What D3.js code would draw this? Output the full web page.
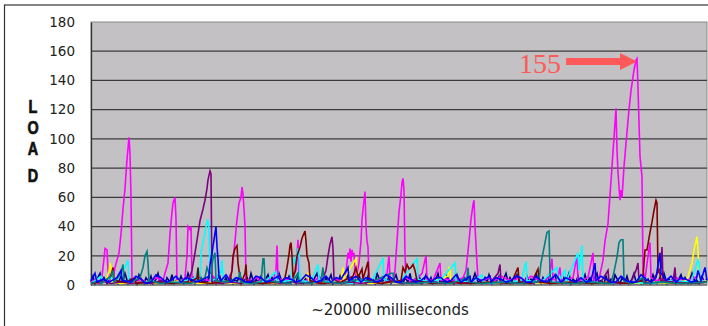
<!DOCTYPE html>
<html>
<head>
<meta charset="utf-8">
<script src="https://cdn.jsdelivr.net/npm/d3@7"></script>
<style>
  body { margin: 0; background: #fff; }
  svg { display: block; }
</style>
</head>
<body>
<div id="chart"></div>
<script>
// y axis ticks
const yTicks = [0, 20, 40, 60, 80, 100, 120, 140, 160, 180];
const yLetters = ["L", "O", "A", "D"];
const xTitle = "~20000 milliseconds";
const peakLabel = 155;
const peakSample = 546;

// one [sample, load] list per run (~32 ms per sample)
const navyLoad = [[0,2],[2,6],[4,1],[6,4],[9,8],[11,2],[13,5],[16,1],[18,3],[20,7],[23,2],[25,4],[27,1],[30,6],[32,3],[34,8],[37,1],[39,4],[41,2],[44,5],[46,1],[48,7],[51,3],[53,1],[55,5],[58,2],[60,6],[62,1],[65,4],[67,8],[69,2],[72,3],[74,1],[76,5],[79,2],[81,7],[83,1],[86,4],[88,2],[90,6],[93,1],[95,3],[97,8],[100,2],[102,5],[104,1],[107,4],[109,7],[111,2],[114,3],[116,1],[118,6],[121,2],[123,4],[125,1],[128,8],[130,3],[132,1],[135,5],[137,2],[139,6],[142,1],[144,4],[146,2],[149,7],[151,1],[153,3],[156,5],[158,2],[160,8],[163,1],[165,4],[167,2],[170,6],[172,1],[174,3],[177,7],[179,2],[181,5],[184,1],[186,4],[188,8],[191,2],[193,3],[195,1],[198,6],[200,2],[202,4],[205,1],[207,7],[209,3],[212,1],[214,5],[216,2],[219,6],[221,1],[223,4],[226,8],[228,2],[230,3],[233,1],[235,5],[237,2],[240,7],[242,1],[244,4],[247,2],[249,6],[251,1],[254,3],[256,8],[258,2],[261,5],[263,1],[265,4],[268,7],[270,2],[272,3],[275,1],[277,6],[279,2],[282,4],[284,1],[286,8],[289,3],[291,1],[293,5],[296,2],[298,6],[300,1],[303,4],[305,7],[307,2],[310,3],[312,1],[314,5],[317,2],[319,8],[321,1],[324,4],[326,2],[328,6],[331,1],[333,3],[335,7],[338,2],[340,5],[342,1],[345,4],[347,8],[349,2],[352,3],[354,1],[356,6],[359,2],[361,4],[363,1],[366,7],[368,3],[370,1],[373,5],[375,2],[377,6],[380,1],[382,4],[384,8],[387,2],[389,3],[391,1],[394,5],[396,2],[398,7],[401,1],[403,4],[405,2],[408,6],[410,1],[412,3],[415,8],[417,2],[419,5],[422,1],[424,4],[426,7],[429,2],[431,3],[433,1],[436,6],[438,2],[440,4],[443,1],[445,8],[447,3],[450,1],[452,5],[454,2],[457,6],[459,1],[461,4],[464,7],[466,2],[468,3],[471,1],[473,5],[475,2],[478,8],[480,1],[482,4],[485,2],[487,6],[489,1],[492,3],[494,7],[496,2],[499,5],[501,1],[503,4],[506,8],[508,2],[510,3],[513,1],[515,6],[517,2],[520,4],[522,1],[524,7],[527,3],[529,1],[531,5],[534,2],[536,6],[538,1],[541,4],[543,8],[545,2],[548,3],[550,1],[552,6],[555,2],[557,4],[559,1],[562,7],[564,3],[566,1],[569,5],[571,2],[573,8],[576,1],[578,4],[580,2],[583,6],[585,1],[587,3],[590,7],[592,2],[594,5],[597,1],[599,4],[601,8],[604,2],[606,3],[608,1],[611,6],[613,2],[616,4]];

const magentaLoad = [[0,2],[5,4],[8,1],[11,6],[13,18],[14,25],[16,24],[17,10],[19,3],[22,4],[24,12],[26,17],[28,22],[30,35],[32,52],[34,66],[36,86],[38,101],[39,90],[40,60],[41,3],[45,2],[50,4],[55,2],[60,3],[66,5],[72,3],[74,8],[77,15],[79,35],[81,50],[82,56],[84,60],[85,45],[86,3],[90,2],[94,5],[96,20],[97,40],[99,38],[100,40],[101,5],[106,2],[112,4],[118,3],[122,6],[126,3],[132,2],[138,3],[141,10],[144,30],[146,45],[148,56],[150,60],[151,67],[152,62],[153,52],[154,40],[155,4],[160,3],[166,5],[170,2],[176,4],[182,3],[185,10],[186,27],[187,5],[192,3],[198,4],[205,10],[207,31],[208,5],[212,2],[218,4],[224,3],[228,6],[232,3],[238,2],[244,4],[250,3],[254,3],[256,15],[257,22],[258,18],[259,25],[260,16],[261,24],[262,20],[263,22],[264,10],[265,4],[266,8],[268,15],[270,30],[271,45],[273,58],[274,64],[275,40],[276,30],[277,26],[278,5],[282,3],[290,4],[296,8],[298,20],[299,5],[302,3],[304,10],[306,30],[308,50],[310,62],[311,70],[312,73],[313,65],[314,20],[315,5],[320,3],[326,4],[331,8],[335,20],[336,4],[342,3],[349,15],[350,3],[356,4],[362,3],[368,4],[372,5],[375,10],[378,30],[380,45],[382,55],[383,58],[384,40],[386,15],[387,4],[392,3],[398,5],[404,3],[410,6],[416,4],[422,3],[428,5],[434,3],[440,6],[446,4],[452,3],[458,5],[461,18],[462,4],[466,3],[469,12],[470,3],[476,4],[482,5],[486,20],[487,3],[492,4],[497,5],[502,22],[503,3],[508,4],[512,17],[514,30],[517,42],[521,81],[523,101],[525,121],[526,92],[527,77],[529,58],[530,65],[531,60],[533,81],[535,97],[538,120],[540,133],[543,147],[545,154],[546,155],[547,135],[549,88],[551,74],[552,10],[554,4],[557,20],[559,29],[560,5],[565,3],[572,4],[578,2],[585,5],[592,3],[600,4],[607,6],[612,3],[616,2]];

const yellowLoad = [[0,1],[15,3],[18,9],[19,15],[20,12],[21,2],[30,1],[50,2],[70,1],[90,3],[110,1],[130,2],[150,1],[170,2],[190,1],[210,2],[217,8],[218,2],[230,1],[240,3],[250,2],[252,12],[253,4],[264,17],[265,18],[266,3],[280,1],[300,2],[320,1],[340,2],[357,6],[358,12],[359,12],[360,2],[380,1],[400,2],[420,1],[440,2],[460,1],[480,2],[500,1],[520,2],[540,1],[560,2],[580,1],[596,3],[598,8],[601,15],[603,24],[605,30],[606,33],[607,24],[608,5],[610,2],[616,3]];

const cyanLoad = [[0,1],[10,6],[11,2],[20,5],[25,3],[34,12],[37,17],[38,2],[50,1],[60,3],[70,1],[90,2],[105,5],[107,12],[109,5],[110,22],[112,29],[114,36],[116,43],[117,45],[118,38],[119,8],[120,3],[125,4],[130,9],[131,17],[132,3],[140,2],[160,1],[175,3],[185,9],[186,2],[200,3],[203,19],[204,14],[207,25],[208,22],[209,3],[220,2],[227,14],[228,3],[240,2],[260,1],[270,3],[280,2],[292,18],[293,4],[300,2],[310,3],[326,18],[327,4],[340,2],[350,4],[364,15],[365,3],[380,2],[391,7],[392,2],[400,1],[420,3],[430,2],[435,16],[436,3],[450,2],[466,12],[467,2],[474,10],[475,2],[487,22],[488,10],[491,27],[492,3],[500,2],[520,1],[540,2],[560,1],[580,3],[600,2],[607,17],[608,15],[609,3],[616,2]];

const purpleLoad = [[0,1],[10,3],[20,1],[30,2],[40,1],[50,2],[60,1],[70,3],[80,1],[90,2],[97,2],[101,10],[104,22],[107,35],[109,44],[112,52],[114,58],[116,66],[117,72],[119,78],[120,76],[121,2],[130,1],[140,2],[150,1],[160,3],[170,1],[180,2],[190,1],[200,2],[210,1],[220,2],[230,1],[235,10],[237,20],[239,28],[241,33],[242,25],[243,4],[250,1],[260,2],[270,1],[280,2],[290,1],[300,3],[310,1],[320,2],[330,1],[340,3],[350,1],[360,2],[370,1],[380,2],[390,1],[400,2],[407,8],[409,14],[410,2],[420,1],[430,2],[440,1],[450,3],[460,1],[470,2],[480,1],[490,2],[500,1],[510,2],[517,10],[518,2],[530,1],[540,2],[545,10],[547,15],[548,3],[560,1],[570,12],[571,26],[572,3],[582,2],[584,12],[585,2],[600,1],[616,2]];

const maroonLoad = [[0,1],[12,2],[20,6],[22,12],[23,3],[35,2],[44,5],[45,1],[60,2],[80,1],[100,2],[106,5],[107,12],[108,2],[120,1],[139,3],[141,10],[142,20],[144,25],[146,27],[147,15],[149,5],[150,1],[154,8],[155,14],[156,2],[170,1],[190,2],[194,5],[196,12],[198,21],[199,27],[200,29],[201,20],[202,5],[204,9],[206,20],[209,26],[211,32],[214,37],[215,30],[216,20],[218,15],[219,3],[230,1],[250,2],[262,6],[265,12],[267,5],[271,11],[272,4],[277,16],[278,3],[290,1],[310,3],[312,12],[314,9],[316,14],[318,11],[320,12],[322,14],[324,10],[326,3],[340,1],[360,2],[380,1],[400,2],[420,1],[427,12],[428,2],[440,1],[447,11],[448,2],[460,1],[480,2],[500,1],[520,2],[540,1],[551,3],[552,6],[554,24],[556,24],[559,36],[561,43],[563,51],[565,58],[566,56],[567,10],[569,8],[570,2],[590,1],[616,2]];

const tealLoad = [[0,1],[8,3],[10,1],[20,6],[22,10],[23,2],[30,8],[32,14],[33,3],[40,2],[49,5],[52,12],[54,20],[56,23],[57,15],[58,3],[70,1],[80,2],[100,1],[114,5],[116,12],[118,8],[120,8],[122,18],[124,22],[125,3],[135,2],[148,5],[149,9],[150,2],[160,1],[170,2],[172,18],[173,18],[174,3],[185,2],[200,1],[207,8],[208,2],[220,1],[230,3],[232,12],[233,2],[250,1],[260,3],[270,4],[280,2],[300,8],[302,8],[303,2],[320,1],[340,2],[360,1],[376,5],[377,12],[378,2],[390,1],[410,2],[430,1],[440,2],[446,2],[448,3],[450,15],[452,22],[454,29],[456,36],[458,37],[459,8],[460,2],[480,1],[500,2],[520,1],[523,9],[526,19],[528,29],[530,31],[532,31],[533,3],[540,1],[552,5],[553,1],[570,2],[590,1],[616,2]];

const blueLoad = [[0,3],[4,8],[6,2],[12,4],[18,2],[26,5],[30,10],[31,3],[40,2],[45,6],[50,4],[55,1],[60,2],[65,7],[70,5],[75,2],[80,3],[85,6],[90,2],[95,5],[100,4],[105,2],[110,3],[118,6],[119,14],[121,22],[123,31],[125,40],[126,26],[127,18],[128,5],[130,3],[135,7],[140,2],[145,5],[150,4],[155,2],[160,2],[165,6],[170,5],[175,2],[180,3],[187,6],[190,2],[195,5],[200,4],[205,2],[210,3],[215,7],[220,5],[225,2],[230,3],[235,6],[240,2],[245,5],[250,4],[257,12],[258,3],[265,6],[270,2],[275,5],[280,4],[285,2],[290,3],[295,7],[300,5],[305,2],[310,2],[315,6],[320,4],[325,2],[330,3],[335,6],[340,2],[345,5],[350,5],[355,2],[360,3],[365,7],[370,2],[379,6],[380,2],[385,5],[390,3],[399,6],[400,2],[405,5],[410,4],[415,2],[420,3],[425,6],[430,5],[435,2],[440,2],[445,6],[450,3],[455,2],[460,4],[465,7],[470,2],[475,5],[480,3],[485,2],[490,5],[495,2],[500,3],[504,15],[505,3],[510,6],[515,4],[520,2],[525,2],[530,6],[535,3],[540,2],[545,2],[550,7],[555,4],[560,2],[565,5],[569,22],[570,8],[575,3],[580,6],[585,2],[590,5],[595,4],[600,2],[605,3],[607,10],[610,3],[614,12],[616,3]];

// drawing order follows the old spreadsheet default palette
const runs = [
    {values: navyLoad, color: "#000080"},
    {values: magentaLoad, color: "#ff00ff"},
    {values: yellowLoad, color: "#ffff00"},
    {values: cyanLoad, color: "#00ffff"},
    {values: purpleLoad, color: "#800080"},
    {values: maroonLoad, color: "#800000"},
    {values: tealLoad, color: "#008080"},
    {values: blueLoad, color: "#0000ff"}
];

const W = 708, H = 326;
const margin = {top: 22, right: 1, bottom: 41, left: 91};
const width = W - margin.left - margin.right;
const height = H - margin.top - margin.bottom;

const root = d3.select("#chart").append("svg")
    .attr("width", W)
    .attr("height", H);

// outer frame (only left & top edges fall inside the picture)
root.append("rect")
    .attr("x", 4.5).attr("y", 5)
    .attr("width", W + 20).attr("height", H + 20)
    .attr("fill", "none")
    .attr("stroke", "#333")
    .attr("stroke-width", 1.2);

const svg = root.append("g")
    .attr("transform", `translate(${margin.left},${margin.top})`);

const x = d3.scaleLinear().domain([0, 616]).range([0, width]);
const y = d3.scaleLinear().domain([0, 180]).range([height, 0]);

svg.append("rect")
    .attr("width", width)
    .attr("height", height)
    .attr("fill", "#c3c1c3")
    .attr("stroke", "#8a8a8a");

svg.append("g")
    .selectAll("line")
    .data(yTicks.filter(d => d > 0 && d < 180))
    .enter().append("line")
    .attr("x1", 0).attr("x2", width)
    .attr("y1", d => y(d)).attr("y2", d => y(d))
    .attr("stroke", "#3c3c3c")
    .attr("stroke-width", 1.3);

const yAxis = svg.append("g")
    .call(d3.axisLeft(y).tickValues(yTicks).tickSize(0).tickPadding(16));
yAxis.select(".domain").attr("stroke", "#333").attr("stroke-width", 1.3);
yAxis.selectAll("text")
    .attr("font-family", "DejaVu Sans, sans-serif")
    .attr("font-size", 13.5)
    .attr("fill", "#222");

const line = d3.line()
    .x(d => x(d[0]))
    .y(d => y(d[1]));

svg.append("g")
    .selectAll("path")
    .data(runs)
    .enter().append("path")
    .attr("d", d => line(d.values))
    .attr("fill", "none")
    .attr("stroke", d => d.color)
    .attr("stroke-width", 1.6);

// bottom axis line
svg.append("line")
    .attr("x1", 0).attr("x2", width)
    .attr("y1", height).attr("y2", height)
    .attr("stroke", "#555");

// axis titles: LOAD written downwards, one letter per line
const letterBase = [113, 134, 155, 182];
root.append("text")
    .attr("transform", "translate(33,0) scale(0.8,1)")
    .attr("text-anchor", "middle")
    .attr("font-family", "Liberation Sans, Arial, sans-serif")
    .attr("font-weight", "bold")
    .attr("font-size", 18)
    .attr("fill", "#111")
    .attr("stroke", "#111")
    .attr("stroke-width", 0.7)
    .selectAll("tspan")
    .data(yLetters)
    .enter().append("tspan")
    .attr("x", 0)
    .attr("y", (d, i) => letterBase[i])
    .text(d => d);

root.append("text")
    .attr("x", margin.left + width / 2 - 9)
    .attr("y", 315)
    .attr("text-anchor", "middle")
    .attr("font-family", "DejaVu Sans, sans-serif")
    .attr("font-size", 15)
    .attr("fill", "#222")
    .text(xTitle);

// peak annotation
const tipX = margin.left + x(peakSample);
const tipY = margin.top + y(peakLabel) + 3;
root.append("path")
    .attr("d", `M${tipX - 71},${tipY - 3.5} H${tipX - 17} V${tipY - 8.5} L${tipX},${tipY} L${tipX - 17},${tipY + 8.5} V${tipY + 3.5} H${tipX - 71} Z`)
    .attr("fill", "#ff5959");

root.append("text")
    .attr("x", tipX - 76)
    .attr("y", tipY + 11)
    .attr("text-anchor", "end")
    .attr("font-family", "Liberation Serif, Times New Roman, serif")
    .attr("font-size", 28)
    .attr("fill", "#ff5959")
    .text(peakLabel);
</script>
</body>
</html>
